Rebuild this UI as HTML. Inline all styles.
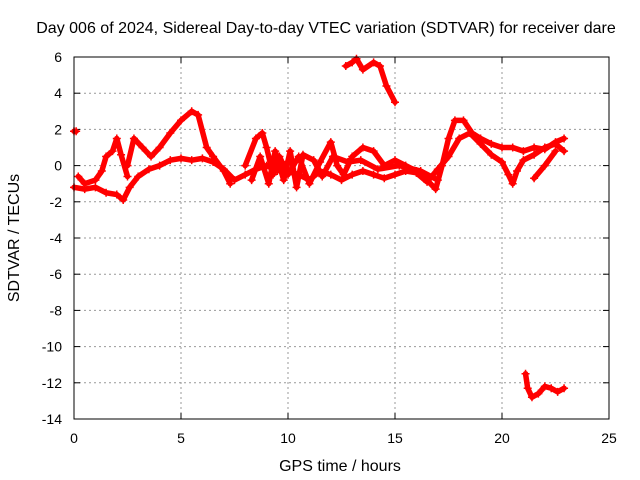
<!DOCTYPE html>
<html><head><meta charset="utf-8"><style>
body{margin:0;background:#fff}
svg{display:block;font-family:"Liberation Sans",sans-serif}
</style></head><body>
<svg id="chart" width="640" height="480">
<text x="326" y="33" font-size="16" text-anchor="middle">Day 006 of 2024, Sidereal Day-to-day VTEC variation (SDTVAR) for receiver dare</text>
<text x="340" y="471" font-size="16" text-anchor="middle">GPS time / hours</text>
<text transform="translate(19,238) rotate(-90)" font-size="16" text-anchor="middle">SDTVAR / TECUs</text>
<g id="grid"></g><g id="ticks"></g><g id="marks"></g>
<rect x="74" y="57" width="535" height="362" fill="none" stroke="#000"/>
</svg>
<script>
const xTicks=[0,5,10,15,20,25];
const yTicks=[6,4,2,0,-2,-4,-6,-8,-10,-12,-14];
const trackA=[[0,-1.2],[0.5,-1.3],[1,-1.2],[1.5,-1.5],[2,-1.6],[2.3,-1.9],[2.6,-1.2],[3,-0.6],[3.5,-0.2],[4,0],[4.5,0.3],[5,0.4],[5.5,0.3],[6,0.4],[6.5,0.2],[7,-0.2],[7.5,-0.8],[8,-0.5],[8.5,-0.2],[9,0],[9.5,-0.3],[10,0.2]];
const trackB=[[0.2,-0.6],[0.5,-1.0],[1,-0.8],[1.3,-0.3],[1.5,0.5],[1.8,0.8],[2,1.5],[2.2,0.6],[2.5,-0.6]];
const trackC=[[2.5,0],[2.8,1.5],[3.2,1],[3.6,0.5],[4,1],[4.5,1.8],[5,2.5],[5.5,3],[5.8,2.8],[6.2,1],[6.5,0.5],[7,-0.3],[7.3,-1]];
const trackD=[[8,0],[8.5,1.5],[8.8,1.8],[9,1],[9.3,-0.5],[9.6,0.5],[10,-0.5],[10.5,0.5],[11,-1],[11.5,0.2],[12,1.3],[12.3,0],[12.6,-0.5],[13,0.5],[13.5,1],[14,0.8],[14.5,0],[15,0.3],[15.5,0],[16,-0.3],[16.5,-0.8],[16.9,-1.3],[17.2,0],[17.5,1.5],[17.8,2.5],[18.2,2.5],[18.6,1.8],[19,1.5],[19.5,1.2],[20,1],[20.5,1],[21,0.8],[21.5,1],[22,0.9],[22.5,1.3],[22.9,1.5]];
const trackE=[[10,-0.3],[10.5,-0.5],[11,-0.8],[11.5,-0.3],[12,-0.5],[12.5,-0.8],[13,-0.5],[13.5,-0.3],[14,-0.5],[14.5,-0.7],[15,-0.5],[15.5,-0.3],[16,-0.4],[16.5,-0.9],[17,-0.2],[17.5,0.5],[18,1.5],[18.5,1.8],[19,1.2],[19.5,0.6],[20,0.2],[20.3,-0.5],[20.5,-1.0],[20.7,-0.3],[21,0.3],[21.5,0.6],[22,1],[22.5,1.2],[22.9,0.8]];
const trackF=[[21.5,-0.7],[22,0],[22.5,0.8]];
const trackG=[[12.7,5.5],[13,5.7],[13.2,5.9],[13.5,5.3],[14,5.7],[14.3,5.5],[14.6,4.4],[15,3.5]];
const trackH=[[21.1,-11.5],[21.2,-12.3],[21.4,-12.8],[21.7,-12.6],[22,-12.2],[22.3,-12.3],[22.6,-12.5],[22.9,-12.3]];
const trackI=[[0,1.9],[0.1,1.9]];
const trackJ=[[8.3,-0.8],[8.7,0.5],[9.1,-1],[9.4,0.8],[9.8,-0.8],[10.1,0.8],[10.4,-1.2],[10.7,0.6],[11.2,0.3],[11.6,-0.6],[12.1,0.5],[12.8,0.2],[13.4,0.3],[14.2,-0.2],[15.2,0],[16.2,-0.3],[17,-0.8]];
const tracks=[trackA,trackB,trackC,trackD,trackE,trackF,trackG,trackH,trackI,trackJ];
const NS="http://www.w3.org/2000/svg";
const X=v=>74+v*535/25, Y=v=>57+(6-v)*362/20;
function mk(t,a,p){const e=document.createElementNS(NS,t);for(const k in a)e.setAttribute(k,a[k]);p.appendChild(e);return e;}
const grid=document.getElementById('grid'),ticks=document.getElementById('ticks'),marks=document.getElementById('marks');
xTicks.forEach(v=>{
 if(v>0&&v<25){const g=mk('line',{x1:X(v),x2:X(v),y1:57,y2:419,stroke:'#999','stroke-dasharray':'2,3'},grid);
 
 }
 mk('line',{x1:X(v),x2:X(v),y1:419,y2:413,stroke:'#000'},ticks);
 mk('line',{x1:X(v),x2:X(v),y1:57,y2:63,stroke:'#000'},ticks);
 const t=mk('text',{x:X(v),y:443,'font-size':14,'text-anchor':'middle'},ticks);t.textContent=v;
 
 
});
yTicks.forEach(v=>{
 if(v<6&&v>-14){const g=mk('line',{x1:74,x2:609,y1:Y(v),y2:Y(v),stroke:'#999','stroke-dasharray':'2,3'},grid);
 
 }
 mk('line',{x1:74,x2:80,y1:Y(v),y2:Y(v),stroke:'#000'},ticks);
 mk('line',{x1:609,x2:603,y1:Y(v),y2:Y(v),stroke:'#000'},ticks);
 const t=mk('text',{x:62,y:Y(v)+5,'font-size':14,'text-anchor':'end'},ticks);t.textContent=v;
 
 
});
tracks.forEach(tr=>{
 const p=mk('polyline',{points:tr.map(d=>X(d[0])+','+Y(d[1])).join(' '),fill:'none',stroke:'#f00','stroke-width':5.5,'stroke-linejoin':'round','stroke-linecap':'round'},marks);
 
 
 tr.forEach(d=>{
  const m=mk('path',{d:`M${X(d[0])-4},${Y(d[1])}h8M${X(d[0])},${Y(d[1])-4}v8`,stroke:'#f00','stroke-width':1.5},marks);
  
  
 });
});
</script>
</body></html>
